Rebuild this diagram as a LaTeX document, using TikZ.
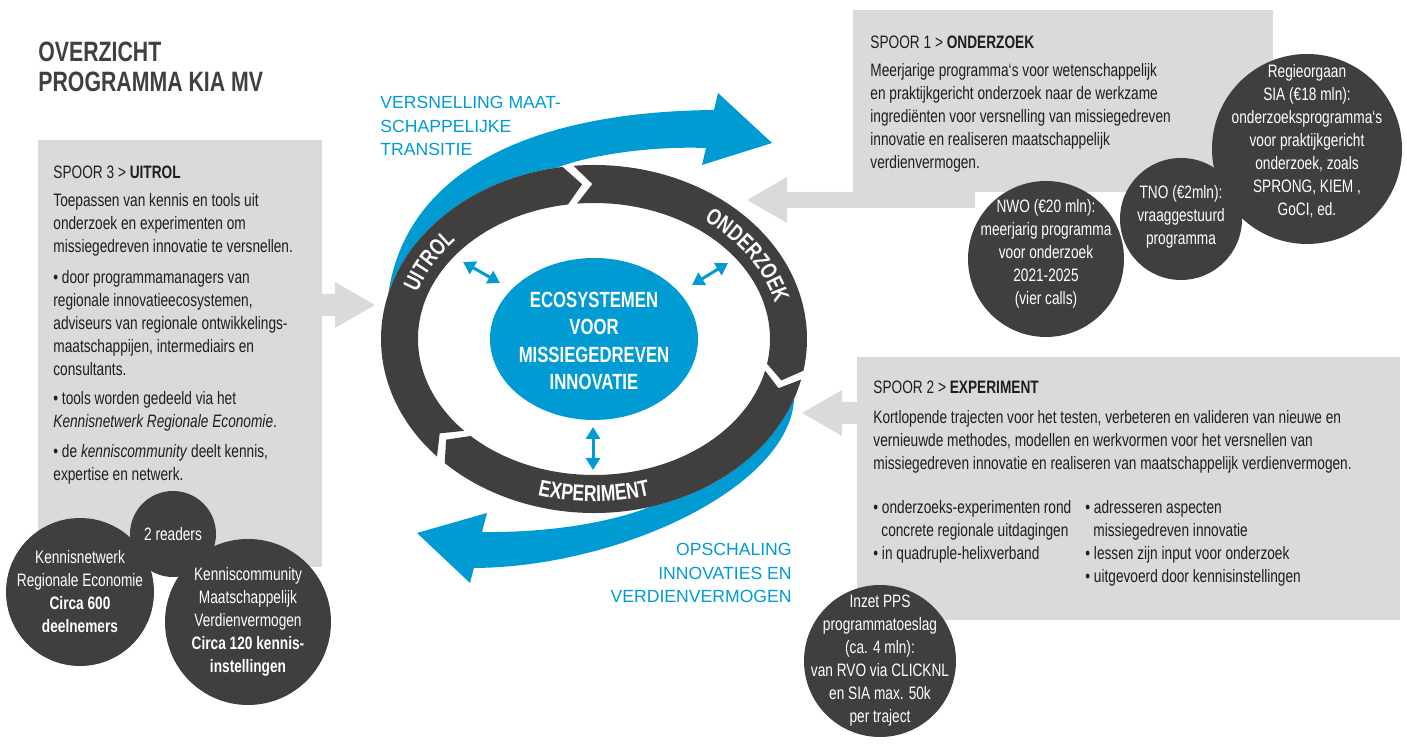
\documentclass[tikz,border=0pt]{standalone}
\usepackage{fontspec}
\setmainfont{Liberation Sans}
\newfontfamily\narrowfont[FakeStretch=0.76]{Liberation Sans}
\usetikzlibrary{shapes.geometric, arrows.meta, calc, decorations.text}

\definecolor{kiablue}{RGB}{0,155,211}
\definecolor{ringgray}{RGB}{64,63,61}
\definecolor{boxgray}{RGB}{218,218,218}
\definecolor{textdark}{RGB}{30,30,30}
\definecolor{titlegray}{RGB}{64,64,64}

\newcommand{\ringfont}{\narrowfont\bfseries\fontsize{11.5}{12}\selectfont}
% one piece of the ring, from angle #1 clockwise to angle #2, with a chevron end
\newcommand{\ringpart}[2]{%
  \fill[ringgray] ($(C)+(#1:213 and 174)$)
    arc[start angle=#1, end angle=#2, x radius=213, y radius=174]
    -- ($(C)+(#2-5:194.5 and 155)$)
    -- ($(C)+(#2:176 and 136)$)
    arc[start angle=#2, end angle=#1, x radius=176, y radius=136]
    -- ($(C)+(#1-5:194.5 and 155)$) -- cycle;}

\tikzstyle{spoorbox} = [rectangle, fill=boxgray, anchor=south west, inner sep=0, outer sep=0]
\tikzstyle{spoortext} = [anchor=north west, inner sep=0, align=left, text=textdark, font=\narrowfont\fontsize{9}{11.5}\selectfont]
\tikzstyle{feed} = [fill=boxgray]
\tikzstyle{bubble} = [circle, fill=ringgray, inner sep=0, outer sep=0]
\tikzstyle{bubbletext} = [inner sep=0, align=center, text=white, font=\narrowfont\fontsize{9}{11.5}\selectfont]
\tikzstyle{bluelabel} = [inner sep=0, text=kiablue, font=\fontsize{8.8}{11.7}\selectfont]
\tikzstyle{hub} = [ellipse, fill=kiablue, minimum width=104pt, minimum height=81pt, inner sep=0]
\tikzstyle{link} = [kiablue, line width=1.5pt, <->, >={Triangle[length=6pt,width=7pt]}]
\tikzstyle{ringlabel} = [decorate, decoration={text along path, text align=center, text color=white}]

\begin{document}
\begin{tikzpicture}[x=0.5pt, y=0.5pt]
\useasboundingbox (0,0) rectangle (1407,747);
\coordinate (C) at (594,408);

\node (title) [anchor=north west, inner sep=0, align=left, text=titlegray, font=\narrowfont\bfseries\fontsize{14}{15}\selectfont] at (38,705) {OVERZICHT\\PROGRAMMA KIA MV};

\node (uitrolbox) [spoorbox, minimum width=142pt, minimum height=213.5pt] at (38,180) {};
\node (onderzoekbox) [spoorbox, minimum width=210pt, minimum height=91pt] at (853,555) {};
\node (experimentbox) [spoorbox, minimum width=271.5pt, minimum height=131.5pt] at (857,127) {};

% grey feed arrows towards the cycle
\fill[feed] (322,431) -- (335,431) -- (335,419) -- (375,442) -- (335,465) -- (335,453) -- (322,453) -- cycle;
\fill[feed] (975,539) -- (787,539) -- (787,524) -- (747,547) -- (787,570) -- (787,555) -- (975,555) -- cycle;
\fill[feed] (858,323) -- (842,323) -- (842,311) -- (802,334) -- (842,357) -- (842,345) -- (858,345) -- cycle;

\node (uitroltext) [spoortext] at ($(uitrolbox.north west)+(15,-25.5)$) {SPOOR 3 > \textbf{UITROL}\\[2.5pt]
Toepassen van kennis en tools uit\\
onderzoek en experimenten om\\
missiegedreven innovatie te versnellen.\\[4pt]
• door programmamanagers van\\
regionale innovatieecosystemen,\\
adviseurs van regionale ontwikkelings-\\
maatschappijen, intermediairs en\\
consultants.\\[3pt]
• tools worden gedeeld via het\\
\textit{Kennisnetwerk Regionale Economie}.\\[3.5pt]
• de \textit{kenniscommunity} deelt kennis,\\
expertise en netwerk.};

\node (onderzoektext) [spoortext] at ($(onderzoekbox.north west)+(17,-25.5)$) {SPOOR 1 > \textbf{ONDERZOEK}\\[2.5pt]
Meerjarige programma‘s voor wetenschappelijk\\
en praktijkgericht onderzoek naar de werkzame\\
ingrediënten voor versnelling van missiegedreven\\
innovatie en realiseren maatschappelijk\\
verdienvermogen.};

\node (experimenttext) [spoortext] at ($(experimentbox.north west)+(16,-23.5)$) {SPOOR 2 > \textbf{EXPERIMENT}\\[3.5pt]
Kortlopende trajecten voor het testen, verbeteren en valideren van nieuwe en\\
vernieuwde methodes, modellen en werkvormen voor het versnellen van\\
missiegedreven innovatie en realiseren van maatschappelijk verdienvermogen.};
\node (bulletsleft) [spoortext] at (873,246.5) {• onderzoeks-experimenten rond\\
\hspace*{4pt}concrete regionale uitdagingen\\
• in quadruple-helixverband};
\node (bulletsright) [spoortext] at (1085,246.5) {• adresseren aspecten\\
\hspace*{4pt}missiegedreven innovatie\\
• lessen zijn input voor onderzoek\\
• uitgevoerd door kennisinstellingen};

% funding and community bubbles
\node (readers) [bubble, minimum size=43pt] at (173,213) {};
\node (knetwerk) [bubble, minimum size=74pt] at (80,155) {};
\node (kcommunity) [bubble, minimum size=83pt] at (248,125) {};
\node (sia) [bubble, minimum size=95pt] at (1307,598) {};
\node (tno) [bubble, minimum size=61pt] at (1181,528) {};
\node (nwo) [bubble, minimum size=78pt] at (1046,488) {};
\node (pps) [bubble, minimum size=76pt] at (880,86) {};

\node (readerstext) [bubbletext] at (readers) {2 readers};
\node (knetwerktext) [bubbletext] at (knetwerk) {Kennisnetwerk\\Regionale Economie\\\textbf{Circa 600}\\\textbf{deelnemers}};
\node (kcommunitytext) [bubbletext] at (kcommunity) {Kenniscommunity\\Maatschappelijk\\Verdienvermogen\\\textbf{Circa 120 kennis-}\\\textbf{instellingen}};
\node (siatext) [bubbletext, yshift=4pt] at (sia) {Regieorgaan\\SIA (€18 mln):\\onderzoeksprogramma‘s\\voor praktijkgericht\\onderzoek, zoals\\SPRONG, KIEM ,\\GoCI, ed.};
\node (tnotext) [bubbletext, yshift=1pt] at (tno) {TNO (€2mln):\\vraaggestuurd\\programma};
\node (nwotext) [bubbletext, yshift=2.75pt] at (nwo) {NWO (€20 mln):\\meerjarig programma\\voor onderzoek\\2021-2025\\(vier calls)};
\node (ppstext) [bubbletext] at (pps) {Inzet PPS\\programmatoeslag\\(ca. 4 mln):\\van RVO via CLICKNL\\en SIA max. 50k\\per traject};

% blue sweeps around the cycle
\fill[kiablue] ($(C)+(165:213 and 174)$) .. controls (405,570) and (520,635) .. (714,637)
  -- (718,654) -- (772,604) -- (702,582) -- (706,599)
  .. controls (650,601) and (590,592) .. ($(C)+(100:213 and 174)$)
  arc[start angle=100, end angle=165, x radius=213, y radius=174] -- cycle;
\fill[kiablue] ($(C)+(-20:213 and 174)$) .. controls (790,260) and (620,180) .. (474,179)
  -- (470,164) -- (417,214) -- (487,234) -- (482,215)
  .. controls (560,214) and (620,228) .. ($(C)+(-75:213 and 174)$)
  arc[start angle=-75, end angle=-20, x radius=213, y radius=174] -- cycle;

\node (versnelling) [bluelabel, anchor=north west, align=left] at (380,651) {VERSNELLING MAAT-\\SCHAPPELIJKE\\TRANSITIE};
\node (opschaling) [bluelabel, anchor=north east, align=right] at (792,204) {OPSCHALING\\INNOVATIES EN\\VERDIENVERMOGEN};

% the cycle
\ringpart{222.5}{98.5}
\ringpart{95.5}{-10.5}
\ringpart{-13.5}{-134.5}
\path[ringlabel, decoration={text={|\ringfont|UITROL}}] ($(C)+(181:186.5 and 146.5)$) arc[start angle=181, end angle=121, x radius=186.5, y radius=146.5];
\path[ringlabel, decoration={text={|\ringfont|ONDERZOEK}}] ($(C)+(63:186.5 and 146.5)$) arc[start angle=63, end angle=3, x radius=186.5, y radius=146.5];
\path[ringlabel, decoration={text={|\ringfont|EXPERIMENT}}] ($(C)+(240:202.5 and 162.5)$) arc[start angle=240, end angle=300, x radius=202.5, y radius=162.5];

\node (hub) [hub] at (594,408) {};
\node (hubtext) [inner sep=0, align=center, text=white, font=\narrowfont\bfseries\fontsize{11}{13.8}\selectfont] at (594,406) {ECOSYSTEMEN\\VOOR\\MISSIEGEDREVEN\\INNOVATIE};

\coordinate (uitrolin) at (463,485);
\coordinate (hubnw) at (500,464);
\coordinate (onderzoekin) at (728,484);
\coordinate (hubne) at (692,462);
\coordinate (hubs) at (593,320);
\coordinate (experimentin) at (593,277);
\draw[link] (uitrolin) -- (hubnw);
\draw[link] (onderzoekin) -- (hubne);
\draw[link] (hubs) -- (experimentin);
\end{tikzpicture}
\end{document}
